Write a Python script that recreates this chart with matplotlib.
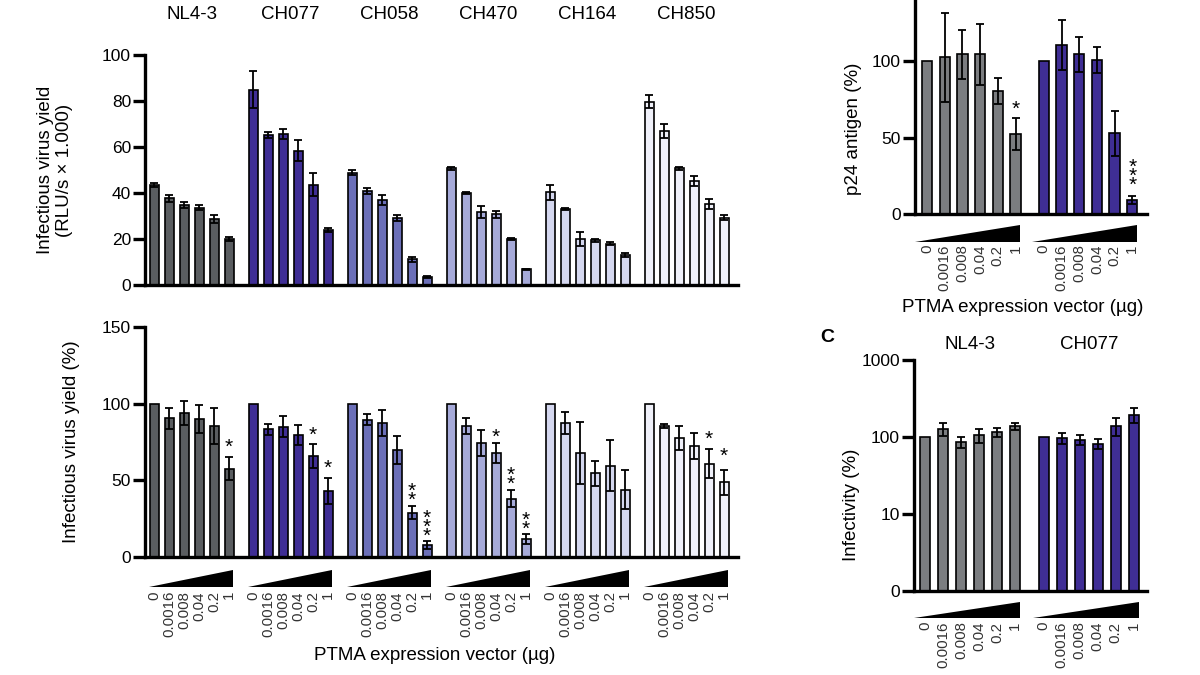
import numpy as np
import matplotlib
matplotlib.use("Agg")
import matplotlib.pyplot as plt
from matplotlib.patches import Polygon
from matplotlib.transforms import blended_transform_factory

plt.rcParams['font.family'] = ['Liberation Sans', 'DejaVu Sans']

strains = ['NL4-3', 'CH077', 'CH058', 'CH470', 'CH164', 'CH850']
doses = ['0', '0.0016', '0.008', '0.04', '0.2', '1']
colors_a = ['#5a5d60', '#3f2e95', '#6b6fb8', '#a6aad9', '#d4d7ef', '#eff0f9']
colors_bc = ['#7b7d80', '#3f2e95']

# panel A, raw yield (RLU/s x 1000)
raw = [[43.5, 37.7, 34.8, 33.6, 28.6, 20.1],
       [85.0, 65.2, 65.7, 58.4, 43.5, 23.9],
       [48.8, 41.0, 37.0, 29.0, 11.2, 3.3],
       [50.7, 39.9, 31.7, 30.7, 19.9, 6.8],
       [40.3, 33.0, 20.0, 19.4, 18.0, 13.0],
       [79.7, 67.0, 50.7, 45.2, 35.2, 29.3]]
raw_err = [[1.0, 1.5, 1.5, 1.2, 1.7, 0.8],
           [8.0, 1.3, 2.2, 4.6, 5.0, 0.7],
           [1.0, 1.3, 2.3, 1.3, 1.0, 0.4],
           [0.6, 0.5, 2.6, 1.5, 0.5, 0.3],
           [3.2, 0.5, 3.2, 0.6, 0.7, 1.0],
           [2.8, 3.2, 0.8, 2.2, 2.0, 1.0]]

# panel A, normalised yield (%)
pct = [[100, 90.4, 94.0, 90.0, 85.4, 57.6],
       [100, 83.3, 85.0, 79.6, 65.6, 43.0],
       [100, 89.6, 87.6, 69.6, 28.9, 8.0],
       [100, 85.4, 74.6, 67.6, 38.0, 12.0],
       [100, 87.4, 67.8, 54.6, 59.6, 44.0],
       [100, 85.4, 77.6, 72.4, 60.7, 48.7]]
pct_err = [[0, 7.0, 8.0, 9.0, 11.5, 7.5],
           [0, 3.5, 7.0, 6.5, 7.8, 8.7],
           [0, 3.5, 8.5, 9.0, 4.3, 2.5],
           [0, 5.0, 8.5, 6.5, 5.5, 3.3],
           [0, 7.0, 20.0, 8.0, 16.5, 12.5],
           [0, 1.5, 8.0, 8.5, 9.5, 8.0]]
# (group, bar, stars, y of lowest star)
pct_stars = [(0, 5, '*', 70.5), (1, 4, '*', 78.7), (1, 5, '*', 56.8),
             (2, 4, '**', 36.0), (2, 5, '***', 12.8),
             (3, 3, '*', 77.1), (3, 4, '**', 46.7), (3, 5, '**', 17.5),
             (5, 4, '*', 75.8), (5, 5, '*', 65.2)]

# panel B, p24 antigen (%)
p24 = [[100, 102.4, 104.4, 104.6, 80.2, 52.5],
       [100, 110.5, 104.4, 100.7, 52.7, 9.0]]
p24_err = [[0, 29.0, 16.0, 20.0, 8.5, 10.5],
           [0, 16.5, 11.5, 8.5, 14.5, 2.5]]
p24_stars = [(0, 5, '*', 67.5), (1, 5, '***', 17.9)]

# panel C, infectivity (%)
inf = [[100, 127, 86, 105, 115, 138],
       [100, 97, 92, 82, 140, 195]]
inf_err = [[0, 23, 14, 22, 16, 14],
           [0, 16, 14, 13, 38, 45]]

W, H = 1200, 675
fig = plt.figure(figsize=(12, 6.75), dpi=100)


def px_axes(l, t, r, b):
    return fig.add_axes([l / W, 1 - b / H, (r - l) / W, (b - t) / H])


def style(ax):
    for s in ['top', 'right']:
        ax.spines[s].set_visible(False)
    for s in ['left', 'bottom']:
        ax.spines[s].set_linewidth(2.4)
    ax.tick_params(axis='y', length=9, width=2.4, labelsize=12.5, pad=1)
    ax.tick_params(axis='x', length=0)


def draw_bars(ax, vals, errs, cols, gap, width, bottom=0):
    for g, (v, e) in enumerate(zip(vals, errs)):
        x = g * gap + np.arange(len(v))
        v = np.array(v, float)
        ax.bar(x, v - bottom, width, bottom=bottom, color=cols[g],
               edgecolor='black', linewidth=1.2, zorder=2)
        k = 1 if e[0] == 0 else 0
        ax.errorbar(x[k:], v[k:], yerr=e[k:], fmt='none', ecolor='black',
                    elinewidth=1.3, capsize=3, capthick=1.3, zorder=3)


def wedges(ax, n, gap, x0, x1, y0, y1):
    tr = blended_transform_factory(ax.transData, ax.transAxes)
    for g in range(n):
        ax.add_patch(Polygon([(g * gap + x0, y0), (g * gap + x1, y0),
                              (g * gap + x1, y1)], closed=True,
                             facecolor='black', edgecolor='none',
                             transform=tr, clip_on=False))


def dose_ticks(ax, n, gap, pad):
    pos = [g * gap + j for g in range(n) for j in range(6)]
    ax.set_xticks(pos)
    ax.set_xticklabels(doses * n, rotation=90, fontsize=10.8, color='#333333')
    ax.tick_params(axis='x', pad=pad)


def stars(ax, items, gap):
    for g, j, s, y in items:
        ax.annotate('\n'.join(s), (g * gap + j, y), xytext=(0, -6.0),
                    textcoords='offset points', ha='center', va='bottom',
                    fontsize=15, linespacing=0.33)


gap = 6.6

# ---- A top
ax1 = px_axes(145, 55, 738, 285)
draw_bars(ax1, raw, raw_err, colors_a, gap, 0.6)
ax1.set_xlim(-0.6, 38.93)
ax1.set_ylim(0, 100)
ax1.set_yticks([0, 20, 40, 60, 80, 100])
ax1.set_xticks([])
style(ax1)
for g, s in enumerate(strains):
    ax1.text(g * gap + 2.5, 1.174, s, transform=blended_transform_factory(ax1.transData, ax1.transAxes),
             ha='center', va='center', fontsize=13.5)
fig.text(55 / W, 1 - 170 / H, 'Infectious virus yield\n(RLU/s × 1.000)', rotation=90,
         ha='center', va='center', fontsize=13.5, linespacing=1.1)

# ---- A bottom
ax2 = px_axes(145, 327, 738, 557)
draw_bars(ax2, pct, pct_err, colors_a, gap, 0.6)
ax2.set_xlim(-0.6, 38.93)
ax2.set_ylim(0, 150)
ax2.set_yticks([0, 50, 100, 150])
style(ax2)
dose_ticks(ax2, 6, gap, 24.5)
wedges(ax2, 6, gap, -0.33, 5.27, -0.13, -0.057)
stars(ax2, pct_stars, gap)
fig.text(72 / W, 1 - 442 / H, 'Infectious virus yield (%)', rotation=90,
         ha='center', va='center', fontsize=13.5)
fig.text(435 / W, 1 - 655 / H, 'PTMA expression vector (µg)',
         ha='center', va='center', fontsize=13.5)

# ---- B
ax3 = px_axes(915, 0, 1147, 214)
draw_bars(ax3, p24, p24_err, colors_bc, gap, 0.58)
ax3.set_xlim(-0.68, 12.43)
ax3.set_ylim(0, 140)
ax3.set_yticks([0, 50, 100])
style(ax3)
dose_ticks(ax3, 2, gap, 22)
wedges(ax3, 2, gap, -0.68, 5.27, -0.131, -0.051)
stars(ax3, p24_stars, gap)
fig.text(853 / W, 1 - 129 / H, 'p24 antigen (%)', rotation=90,
         ha='center', va='center', fontsize=13.5)
fig.text(1023 / W, 1 - 308 / H, 'PTMA expression vector (µg)',
         ha='center', va='center', fontsize=13.5)

# ---- C
ax4 = px_axes(914, 360, 1147, 591)
ax4.set_yscale('log')
draw_bars(ax4, inf, inf_err, colors_bc, gap, 0.58, bottom=1)
ax4.set_xlim(-0.61, 12.33)
ax4.set_ylim(1, 1000)
ax4.set_yticks([1, 10, 100, 1000])
ax4.set_yticklabels(['0', '10', '100', '1000'])
ax4.minorticks_off()
style(ax4)
dose_ticks(ax4, 2, gap, 22)
wedges(ax4, 2, gap, -0.61, 5.28, -0.117, -0.048)
for g, s in enumerate(['NL4-3', 'CH077']):
    ax4.text(g * gap + 2.5, 1.065, s, transform=blended_transform_factory(ax4.transData, ax4.transAxes),
             ha='center', va='center', fontsize=13.5)
fig.text(852 / W, 1 - 505 / H, 'Infectivity (%)', rotation=90,
         ha='center', va='center', fontsize=13.5)
fig.text(827 / W, 1 - 337 / H, 'C', ha='center', va='center',
         fontsize=14, fontweight='bold')

fig.savefig('out.png', dpi=100)
